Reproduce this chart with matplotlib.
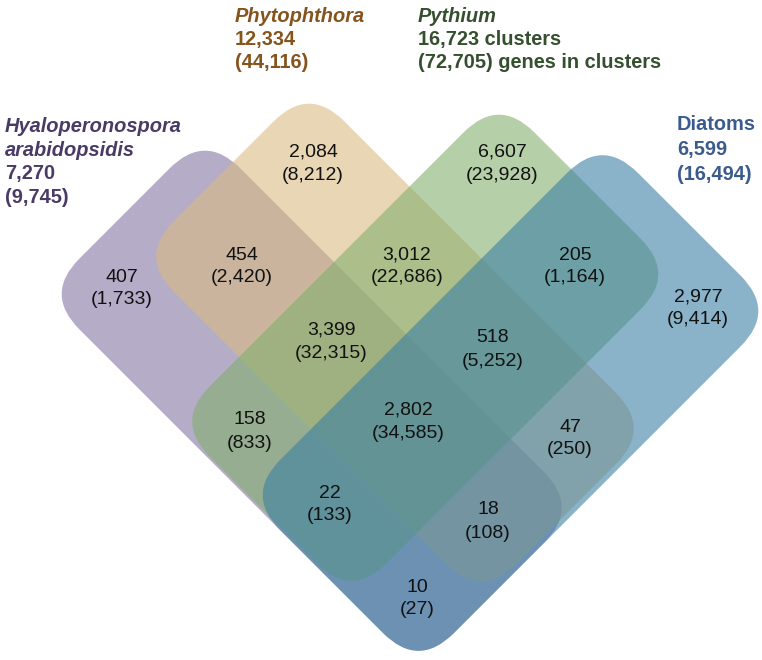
"""
Four-set Venn diagram of protein clusters (oomycetes and diatoms)
"""
import numpy as np
import matplotlib.pyplot as plt
from matplotlib.patches import FancyBboxPatch
from matplotlib.transforms import Affine2D

plt.rcParams['font.family'] = ['Liberation Sans', 'DejaVu Sans']

# set totals: clusters and (genes in clusters)
set_names = ["Hyaloperonospora arabidopsidis", "Phytophthora", "Pythium", "Diatoms"]
set_clusters = [7270, 12334, 16723, 6599]
set_genes = [9745, 44116, 72705, 16494]

# region counts, H = Hyalo, P = Phytophthora, Y = Pythium, D = Diatoms
region_keys = ["H", "P", "Y", "D", "HP", "PY", "YD", "HPY", "PYD",
               "HPYD", "HY", "PD", "HYD", "HPD", "HD"]
region_clusters = [407, 2084, 6607, 2977, 454, 3012, 205, 3399, 518,
                   2802, 158, 47, 22, 18, 10]
region_genes = [1733, 8212, 23928, 9414, 2420, 22686, 1164, 32315, 5252,
                34585, 833, 250, 133, 108, 27]

# ---------------- layout (pixels) ----------------
# each set is a rounded rectangle in the rotated frame u = x + y, v = x - y
shapes = {
    "H": ((338, 1087), (-250, 72)),
    "P": ((395, 1080), (-118, 223)),
    "Y": ((596, 950), (-247, 402)),
    "D": ((740, 1087), (-250, 465)),
}
fills = {"H": (132, 117, 163), "P": (217, 187, 132),
         "Y": (132, 175, 110), "D": (60, 128, 165)}
alpha = 0.6
radius = 50

label_pos = {
    "H": (122, 277), "P": (313, 152), "Y": (502, 152), "D": (698, 297),
    "HP": (242, 255), "PY": (407, 255), "YD": (575, 255),
    "HPY": (331, 330), "PYD": (493, 338), "HPYD": (408, 410),
    "HY": (250, 420), "PD": (570, 427), "HYD": (330, 493),
    "HPD": (488, 510), "HD": (417, 587),
}

fig = plt.figure(figsize=(7.62, 6.6), dpi=100)
ax = fig.add_axes([0, 0, 1, 1])
ax.set_xlim(0, 762)
ax.set_ylim(660, 0)
ax.axis("off")

# map (u, v) back to (x, y)
uv_to_xy = Affine2D(np.array([[0.5, 0.5, 0], [0.5, -0.5, 0], [0, 0, 1]]))

for key in ["H", "P", "Y", "D"]:
    (u0, u1), (v0, v1) = shapes[key]
    colour = np.array(fills[key]) / 255
    box = FancyBboxPatch((u0, v0), u1 - u0, v1 - v0,
                         boxstyle=f"round,pad=0,rounding_size={radius * np.sqrt(2)}",
                         facecolor=colour, edgecolor="none", alpha=alpha,
                         transform=uv_to_xy + ax.transData)
    ax.add_patch(box)

# region numbers
for key, n, g in zip(region_keys, region_clusters, region_genes):
    x, y = label_pos[key]
    ax.text(x, y, f"{n:,}", ha="center", va="center", fontsize=14, color="#111111")
    ax.text(x, y + 23, f"({g:,})", ha="center", va="center", fontsize=14, color="#111111")

# set titles
title_size = 14.4
step = 23.5

# Hyaloperonospora
c = "#4a3b66"
x, y = 5, 127
words = set_names[0].split()
ax.text(x, y, words[0], style="italic", weight="bold", fontsize=title_size, color=c, va="center")
ax.text(x, y + step, words[1], style="italic", weight="bold", fontsize=title_size, color=c, va="center")
ax.text(x, y + 2 * step, f"{set_clusters[0]:,}", weight="bold", fontsize=title_size, color=c, va="center")
ax.text(x, y + 3 * step, f"({set_genes[0]:,})", weight="bold", fontsize=title_size, color=c, va="center")

# Phytophthora
c = "#85531c"
x, y = 235, 16
ax.text(x, y, set_names[1], style="italic", weight="bold", fontsize=title_size, color=c, va="center")
ax.text(x, y + step, f"{set_clusters[1]:,}", weight="bold", fontsize=title_size, color=c, va="center")
ax.text(x, y + 2 * step, f"({set_genes[1]:,})", weight="bold", fontsize=title_size, color=c, va="center")

# Pythium
c = "#34502e"
x, y = 418, 16
ax.text(x, y, set_names[2], style="italic", weight="bold", fontsize=title_size, color=c, va="center")
ax.text(x, y + step, f"{set_clusters[2]:,} clusters", weight="bold", fontsize=title_size, color=c, va="center")
ax.text(x, y + 2 * step, f"({set_genes[2]:,}) genes in clusters", weight="bold", fontsize=title_size, color=c, va="center")

# Diatoms
c = "#3b5b8e"
x, y = 677, 124
ax.text(x, y, set_names[3], weight="bold", fontsize=title_size, color=c, va="center")
ax.text(x, y + 25, f"{set_clusters[3]:,}", weight="bold", fontsize=title_size, color=c, va="center")
ax.text(x, y + 50, f"({set_genes[3]:,})", weight="bold", fontsize=title_size, color=c, va="center")

fig.savefig("out.png", dpi=100)
